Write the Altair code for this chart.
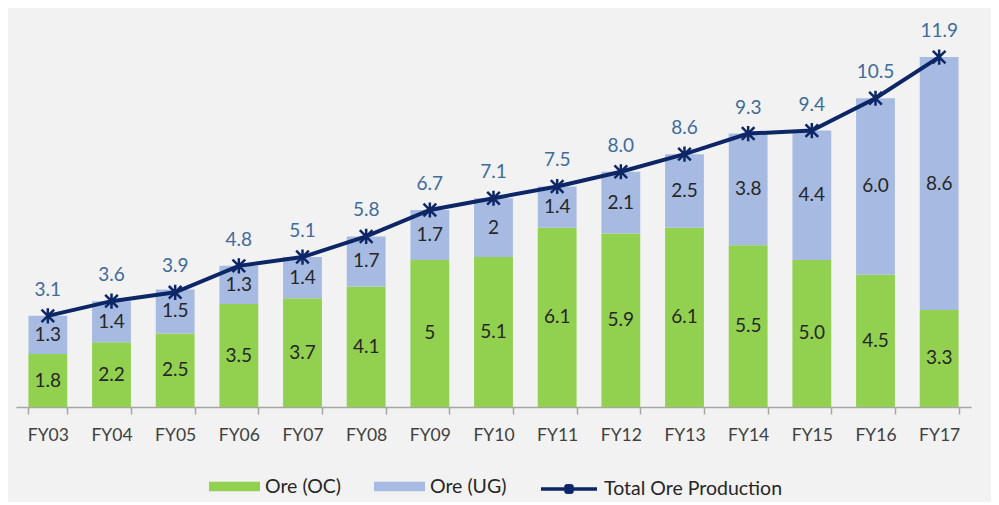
import altair as alt
import pandas as pd

years = ["FY03","FY04","FY05","FY06","FY07","FY08","FY09","FY10","FY11","FY12","FY13","FY14","FY15","FY16","FY17"]
oc = [1.8,2.2,2.5,3.5,3.7,4.1,5,5.1,6.1,5.9,6.1,5.5,5.0,4.5,3.3]
oc_lbl = ["1.8","2.2","2.5","3.5","3.7","4.1","5","5.1","6.1","5.9","6.1","5.5","5.0","4.5","3.3"]
ug = [1.3,1.4,1.5,1.3,1.4,1.7,1.7,2,1.4,2.1,2.5,3.8,4.4,6.0,8.6]
ug_lbl = ["1.3","1.4","1.5","1.3","1.4","1.7","1.7","2","1.4","2.1","2.5","3.8","4.4","6.0","8.6"]
total = [3.1,3.6,3.9,4.8,5.1,5.8,6.7,7.1,7.5,8.0,8.6,9.3,9.4,10.5,11.9]
total_lbl = ["3.1","3.6","3.9","4.8","5.1","5.8","6.7","7.1","7.5","8.0","8.6","9.3","9.4","10.5","11.9"]

rows = []
for i, y in enumerate(years):
    rows.append({"year": y, "series": "Ore (OC)", "value": oc[i], "lbl": oc_lbl[i], "ord": 0})
    rows.append({"year": y, "series": "Ore (UG)", "value": ug[i], "lbl": ug_lbl[i], "ord": 1})
bars_df = pd.DataFrame(rows)
tot_df = pd.DataFrame({"year": years, "total": total, "lbl": total_lbl, "series": ["Total Ore Production"] * len(years)})

FONT = "Lato"
xscale = alt.Scale(domain=years, paddingInner=0.39, paddingOuter=0.195)
yscale = alt.Scale(domain=[0, 13.4], nice=False)

x = alt.X("year:N", scale=xscale, sort=years, title=None,
          axis=alt.Axis(labelAngle=0, tickBand="extent", tickSize=7, tickColor="#a6a6a6",
                        domainColor="#a6a6a6", domainWidth=1.5, tickWidth=1.5, labelPadding=12,
                        labelFont=FONT, labelFontSize=17.5, labelColor="#404040", grid=False))

bars = alt.Chart(bars_df).mark_bar().encode(
    x=x,
    y=alt.Y("value:Q", stack="zero", scale=yscale, axis=None),
    color=alt.Color("series:N",
                    scale=alt.Scale(domain=["Ore (OC)", "Ore (UG)"], range=["#92d050", "#a7bbe2"]),
                    legend=alt.Legend(orient="none", legendX=193, legendY=448, direction="horizontal",
                                      title=None, symbolType="M-1,-0.19H1V0.19H-1Z", symbolSize=2601,
                                      symbolStrokeWidth=0, labelFont=FONT, labelFontSize=19.5,
                                      labelColor="#262626", labelOffset=5, columnPadding=32,
                                      labelLimit=300)),
    order=alt.Order("ord:Q"),
)

seg_text = alt.Chart(bars_df).mark_text(font=FONT, fontSize=19, color="#262626", baseline="middle").encode(
    x=alt.X("year:N", scale=xscale, sort=years),
    y=alt.Y("mid:Q", scale=yscale),
    text="lbl:N",
).transform_window(
    cum="sum(value)", groupby=["year"], sort=[alt.SortField("ord")], frame=[None, 0]
).transform_calculate(mid="datum.cum - datum.value/2")

line = alt.Chart(tot_df).mark_line(color="#0d2766", strokeWidth=4).encode(
    x=alt.X("year:N", scale=xscale, sort=years),
    y=alt.Y("total:Q", scale=yscale),
    stroke=alt.Stroke("series:N", scale=alt.Scale(range=["#0d2766"]),
                      legend=alt.Legend(orient="none", legendX=523, legendY=446, title=None,
                                        symbolType="M-1,0H1M-0.14,-0.14L0.14,0.14M-0.14,0.14L0.14,-0.14M0,-0.18V0.18",
                                        symbolSize=3136, symbolStrokeWidth=3.5, labelFont=FONT,
                                        labelFontSize=19.5, labelColor="#262626", labelOffset=5,
                                        labelLimit=300)),
)

pts = alt.Chart(tot_df).mark_point(shape="M-1,-1L1,1M-1,1L1,-1M0,-1.2L0,1.2", filled=False,
                                   color="#0d2766", strokeWidth=2.5, size=160, opacity=1).encode(
    x=alt.X("year:N", scale=xscale, sort=years),
    y=alt.Y("total:Q", scale=yscale),
)

tot_text = alt.Chart(tot_df).mark_text(font=FONT, fontSize=19, color="#3f6b9c", baseline="middle", dy=-26).encode(
    x=alt.X("year:N", scale=xscale, sort=years),
    y=alt.Y("total:Q", scale=yscale),
    text="lbl:N",
)

chart = alt.layer(bars, seg_text, line, pts, tot_text).properties(
    width=955, height=394,
    padding={"left": 8, "top": 5, "right": 20, "bottom": 95},
    autosize=alt.AutoSizeParams(type="none"),
    background="#f2f2f2",
).configure_view(stroke=None).resolve_scale(color="independent", stroke="independent")

chart.save("out.html", embed_options={"renderer": "svg", "actions": False})
